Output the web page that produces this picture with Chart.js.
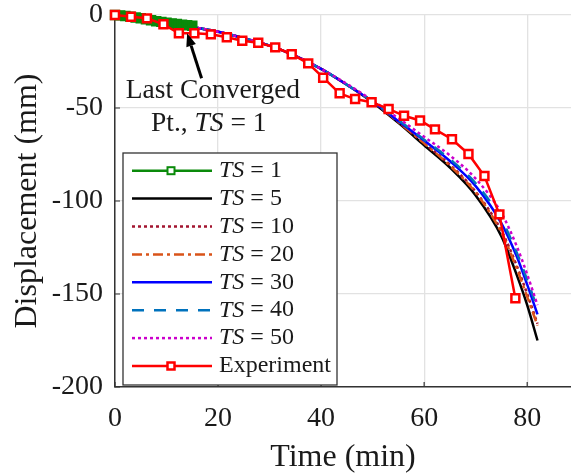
<!DOCTYPE html>
<html lang="en">
<head>
<meta charset="UTF-8">
<title>Displacement vs Time</title>
<script src="https://cdn.jsdelivr.net/npm/chart.js"></script>
<style>
  html, body { margin: 0; padding: 0; background: #fff; }
  #wrap { width: 571px; height: 474px; }
</style>
</head>
<body>
<div id="wrap"><canvas id="dispChart" width="571" height="474"></canvas></div>
<script>
// axis ticks
const xTicks = [0, 20, 40, 60, 80];
const yTicks = [0, -50, -100, -150, -200];

// TS = 1 run, stops at the last converged point
const ts1Time = [0, 1, 2, 3, 4, 5, 6, 7, 8, 9, 10, 11, 12, 13, 14, 15];
const ts1Disp = [0, -0.2, -0.5, -0.9, -1.3, -1.8, -2.3, -2.8, -3.3, -3.7, -4.1, -4.5, -4.9, -5.2, -5.5, -5.8];

// the other simulated runs
const simTime = [0, 5, 10, 15, 20, 25, 30, 35, 40, 45, 50, 55, 60, 65, 70, 75, 78, 80, 82];
const ts5Disp  = [0, -1.5, -4, -6.5, -9, -12.5, -16.5, -22, -29, -37.5, -47, -58, -70, -82, -97, -119, -140, -156, -175];
const ts10Disp = [0, -1.5, -4, -6.5, -9, -12.5, -16.5, -22, -29, -37.5, -46.5, -57.5, -69, -80.5, -95, -116, -135, -150, -166];
const ts20Disp = [0, -1.5, -4, -6.5, -9, -12.5, -16.5, -22, -29, -37.5, -46.5, -57.5, -69, -81, -95.5, -117, -136.5, -151.5, -167];
const ts30Disp = [0, -1.5, -4, -6.5, -9, -12.5, -16.5, -22, -29, -37.5, -46.5, -57, -67.5, -78.5, -92, -112, -130, -145, -161];
const ts40Disp = [0, -1.5, -4, -6.5, -9, -12.5, -16.5, -22, -29, -37.5, -46.5, -56.5, -67, -77.5, -90.5, -110, -128, -142.5, -158];
const ts50Disp = [0, -1.5, -4, -6.5, -9, -12.5, -16.5, -22, -29, -37, -46, -55.5, -65.5, -75.5, -88, -106.5, -124.5, -139.5, -156];

// experiment
const expTime = [0, 3.1, 6.2, 9.4, 12.4, 15.4, 18.6, 21.7, 24.7, 27.8, 31.1, 34.3, 37.5, 40.4, 43.6, 46.6, 49.8, 53.1, 56.1, 59.2, 62.1, 65.4, 68.6, 71.7, 74.6, 77.7];
const expDisp = [0, -0.9, -1.8, -5, -9.8, -9.8, -10.4, -12, -13.8, -14.9, -17.4, -21.1, -26, -33.7, -42.1, -45.2, -46.9, -50.5, -54.2, -56.7, -61.5, -66.8, -74.7, -86.6, -107.2, -152.3];

const serif = "'Times New Roman', 'Liberation Serif', serif";
const pts = (xs, ys) => ys.map((v, i) => ({ x: xs[i], y: v }));

function simSet(ts, disp, color, dash, order) {
    return {
        label: 'TS = ' + ts, ts: ts,
        data: pts(simTime, disp),
        borderColor: color, borderWidth: 2.5, borderDash: dash,
        pointRadius: 0, cubicInterpolationMode: 'monotone',
        fill: false, clip: false, order: order
    };
}

const datasets = [
    {
        label: 'TS = 1', ts: 1,
        data: pts(ts1Time, ts1Disp),
        borderColor: '#0a8a0a', borderWidth: 2.5,
        pointStyle: 'rect', pointRadius: 6, pointBorderWidth: 2,
        pointBorderColor: '#0a8a0a', pointBackgroundColor: '#0a8a0a',
        clip: false, order: 1
    },
    simSet(5, ts5Disp, '#000000', [], 7),
    simSet(10, ts10Disp, '#A2142F', [3, 3], 6),
    simSet(20, ts20Disp, '#D95319', [10, 4, 3, 4], 5),
    simSet(30, ts30Disp, '#0000FF', [], 4),
    simSet(40, ts40Disp, '#0072BD', [12, 10], 3),
    simSet(50, ts50Disp, '#CC00CC', [3, 3], 2),
    {
        label: 'Experiment',
        data: pts(expTime, expDisp),
        borderColor: '#FF0000', borderWidth: 2.5,
        pointStyle: 'rect', pointRadius: 5.6, pointBorderWidth: 2.5,
        pointBorderColor: '#FF0000', pointBackgroundColor: '#FFFFFF',
        clip: false, order: 0
    }
];

// small inward ticks on the axes
const innerTicks = {
    id: 'innerTicks',
    beforeDatasetsDraw(chart) {
        const { ctx, chartArea: a, scales } = chart;
        ctx.save();
        ctx.strokeStyle = '#333';
        ctx.lineWidth = 1.2;
        ctx.beginPath();
        xTicks.forEach(v => {
            const px = scales.x.getPixelForValue(v);
            ctx.moveTo(px, a.bottom); ctx.lineTo(px, a.bottom - 5);
        });
        yTicks.forEach(v => {
            const py = scales.y.getPixelForValue(v);
            ctx.moveTo(a.left, py); ctx.lineTo(a.left + 5, py);
        });
        ctx.stroke();
        ctx.restore();
    }
};

// arrow + note pointing at the last converged TS = 1 point
const convergedNote = {
    id: 'convergedNote',
    afterDatasetsDraw(chart) {
        const { ctx, scales: { x, y } } = chart;
        const tipX = x.getPixelForValue(14.0), tipY = y.getPixelForValue(-9.8);
        const tailX = x.getPixelForValue(16.8), tailY = y.getPixelForValue(-34);
        const ang = Math.atan2(tipY - tailY, tipX - tailX);
        const headL = 13, headW = 5;
        const baseX = tipX - headL * Math.cos(ang), baseY = tipY - headL * Math.sin(ang);
        ctx.save();
        ctx.strokeStyle = '#000';
        ctx.fillStyle = '#000';
        ctx.lineWidth = 3;
        ctx.beginPath();
        ctx.moveTo(tailX, tailY); ctx.lineTo(baseX, baseY);
        ctx.stroke();
        ctx.beginPath();
        ctx.moveTo(tipX, tipY);
        ctx.lineTo(baseX + headW * Math.sin(ang), baseY - headW * Math.cos(ang));
        ctx.lineTo(baseX - headW * Math.sin(ang), baseY + headW * Math.cos(ang));
        ctx.closePath();
        ctx.fill();

        const size = '27.5px ';
        ctx.fillStyle = '#1a1a1a';
        ctx.textBaseline = 'middle';
        ctx.textAlign = 'center';
        ctx.font = size + serif;
        ctx.fillText('Last Converged', x.getPixelForValue(19.0), y.getPixelForValue(-40.9));
        // second line: "Pt., TS = 1" with TS in italics
        const parts = [['Pt., ', ''], ['TS', 'italic '], [' = 1', '']];
        let total = 0;
        parts.forEach(p => { ctx.font = p[1] + size + serif; total += ctx.measureText(p[0]).width; });
        let cx = x.getPixelForValue(18.2) - total / 2;
        const cy = y.getPixelForValue(-58.6);
        ctx.textAlign = 'left';
        parts.forEach(p => {
            ctx.font = p[1] + size + serif;
            ctx.fillText(p[0], cx, cy);
            cx += ctx.measureText(p[0]).width;
        });
        ctx.restore();
    }
};

// legend box in the lower left corner of the axes
const legendBox = {
    id: 'legendBox',
    afterDatasetsDraw(chart) {
        const { ctx, chartArea: a } = chart;
        const w = 214, h = 232, rowH = 27.9;
        const x0 = a.left + 8, y0 = a.bottom - 2 - h;
        ctx.save();
        ctx.fillStyle = '#fff';
        ctx.fillRect(x0, y0, w, h);
        ctx.strokeStyle = '#333';
        ctx.lineWidth = 1.3;
        ctx.strokeRect(x0, y0, w, h);

        chart.data.datasets.forEach((ds, i) => {
            const cy = y0 + 17.7 + i * rowH;
            ctx.strokeStyle = ds.borderColor;
            ctx.lineWidth = ds.borderWidth;
            ctx.setLineDash(ds.borderDash || []);
            ctx.beginPath();
            ctx.moveTo(x0 + 9, cy); ctx.lineTo(x0 + 89, cy);
            ctx.stroke();
            ctx.setLineDash([]);
            if (ds.pointRadius) {
                const s = 7;
                ctx.fillStyle = '#fff';
                ctx.fillRect(x0 + 48 - s / 2, cy - s / 2, s, s);
                ctx.lineWidth = ds.pointBorderWidth;
                ctx.strokeStyle = ds.pointBorderColor;
                ctx.strokeRect(x0 + 48 - s / 2, cy - s / 2, s, s);
            }
            ctx.fillStyle = '#1a1a1a';
            ctx.textBaseline = 'middle';
            ctx.textAlign = 'left';
            let tx = x0 + 96;
            if (ds.ts !== undefined) {
                ctx.font = 'italic 24px ' + serif;
                ctx.fillText('TS', tx, cy);
                tx += ctx.measureText('TS').width;
                ctx.font = '24px ' + serif;
                ctx.fillText(' = ' + ds.ts, tx, cy);
            } else {
                ctx.font = '24px ' + serif;
                ctx.fillText(ds.label, tx, cy);
            }
        });
        ctx.restore();
    }
};

new Chart(document.getElementById('dispChart'), {
    type: 'line',
    data: { datasets: datasets },
    plugins: [innerTicks, convergedNote, legendBox],
    options: {
        responsive: false,
        animation: false,
        events: [],
        devicePixelRatio: 1,
        layout: { autoPadding: false, padding: { top: 15, right: 0, left: 0, bottom: 0 } },
        plugins: { legend: { display: false }, tooltip: { enabled: false } },
        scales: {
            x: {
                type: 'linear', min: 0, max: 88.5,
                afterFit: s => { s.height = 87; s.paddingLeft = 0; s.paddingRight = 0; },
                afterBuildTicks: s => { s.ticks = xTicks.map(v => ({ value: v })); },
                grid: { color: '#e2e2e2', lineWidth: 1.3, drawTicks: false },
                border: { color: '#333', width: 1.5 },
                ticks: { padding: 15, color: '#1a1a1a', maxRotation: 0, autoSkip: false,
                         font: { family: serif, size: 28 }, callback: v => String(v) },
                title: { display: true, text: 'Time (min)', color: '#1a1a1a', padding: { top: 0, bottom: 0 },
                         font: { family: serif, size: 32, lineHeight: 1 } }
            },
            y: {
                type: 'linear', min: -200, max: 0,
                afterFit: s => { s.width = 115; s.paddingTop = 0; s.paddingBottom = 0; },
                afterBuildTicks: s => { s.ticks = yTicks.map(v => ({ value: v })); },
                grid: { color: '#e2e2e2', lineWidth: 1.3, drawTicks: false },
                border: { color: '#333', width: 1.5 },
                ticks: { padding: 12, color: '#1a1a1a', autoSkip: false,
                         font: { family: serif, size: 28 }, callback: v => String(v) },
                title: { display: true, text: 'Displacement (mm)', color: '#1a1a1a', padding: { top: 12, bottom: 0 },
                         font: { family: serif, size: 32, lineHeight: 1 } }
            }
        }
    }
});
</script>
</body>
</html>
